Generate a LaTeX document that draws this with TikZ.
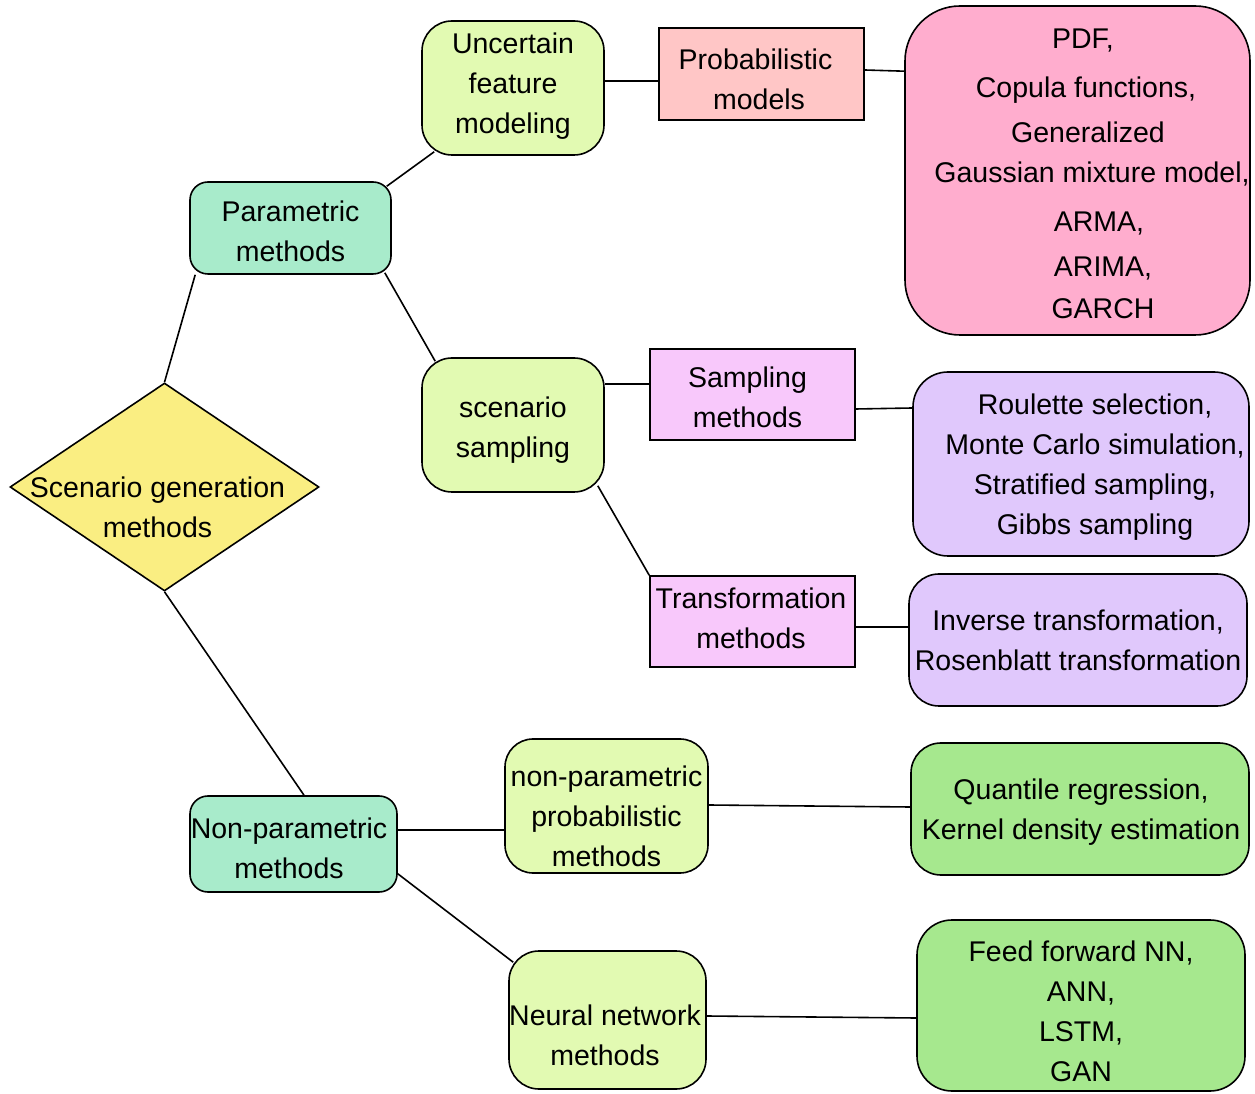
\documentclass[tikz,border=0pt]{standalone}
\usepackage{fontspec}
\setmainfont{Liberation Sans}
\usetikzlibrary{shapes.geometric,calc}
\definecolor{cdia}{HTML}{FAEE82}
\definecolor{cmint}{HTML}{A8EBCB}
\definecolor{clime}{HTML}{E2FAB2}
\definecolor{cprob}{HTML}{FFC6C6}
\definecolor{cviol}{HTML}{F8C8FB}
\definecolor{cpink}{HTML}{FFADCE}
\definecolor{clav}{HTML}{E0C8FC}
\definecolor{cgreen}{HTML}{A6E88E}
\begin{document}
\begin{tikzpicture}[x=1pt,y=1pt,
  base/.style={draw=black, line width=1.6pt, inner sep=0pt},
  rbox/.style={base, rounded corners=#1},
  rbox/.default=30pt,
  sbox/.style={base},
  conn/.style={line width=1.6pt, draw=black},
  txt/.style={font=\fontsize{28.5}{40}\selectfont, align=center, inner sep=0pt}]
\useasboundingbox (0,0) rectangle (1255,1093);

% root diamond
\node[diamond, draw=black, line width=1.6pt, fill=cdia, minimum width=309pt, minimum height=208pt, inner sep=0pt] (dia) at (164.5,606) {};
\node[txt] (diat) at (157.5,586) {Scenario generation\\methods};

% level 1
\node[rbox=18pt, fill=cmint, minimum width=201pt, minimum height=92pt] (par) at (290.5,865) {};
\node[txt] (part) at ($(par.center)+(0,-3)$) {Parametric\\methods};
\node[rbox=18pt, fill=cmint, minimum width=207pt, minimum height=96pt] (npar) at (293.5,249) {};
\node[txt] (npart) at ($(npar.center)+(-4.5,-4)$) {Non-parametric\\methods};

% level 2
\node[rbox, fill=clime, minimum width=182pt, minimum height=134pt] (unc) at (513,1005) {};
\node[txt] (unct) at ($(unc.center)+(0,2)$) {Uncertain\\feature\\modeling};
\node[rbox, fill=clime, minimum width=182pt, minimum height=134pt] (ss) at (513,668) {};
\node[txt] (sst) at ($(ss.center)+(0,-5)$) {scenario\\sampling};
\node[rbox=28pt, fill=clime, minimum width=203pt, minimum height=134pt] (npp) at (606.5,287) {};
\node[txt] (nppt) at ($(npp.center)+(0,-10)$) {non-parametric\\probabilistic\\methods};
\node[rbox, fill=clime, minimum width=197pt, minimum height=138pt] (nn) at (607.5,73) {};
\node[txt] (nnt) at ($(nn.center)+(-2.5,-15)$) {Neural network\\methods};

% level 3 rectangles
\node[sbox, fill=cprob, minimum width=205pt, minimum height=92pt] (prob) at (761.5,1019) {};
\node[txt] (probt) at ($(prob.center)+(-6,-5)$) {Probabilistic\\\hspace*{7pt}models};
\node[sbox, fill=cviol, minimum width=205pt, minimum height=91pt] (samp) at (752.5,698.5) {};
\node[txt] (sampt) at ($(samp.center)+(-5,-3)$) {Sampling\\methods};
\node[sbox, fill=cviol, minimum width=205pt, minimum height=91pt] (trans) at (752.5,471.5) {};
\node[txt] (transt) at ($(trans.center)+(-1.5,3)$) {Transformation\\methods};

% leaves
\node[rbox=55pt, fill=cpink, minimum width=345pt, minimum height=329pt] (pdf) at (1077.5,922.5) {};
\node[txt] (pdft) at ($(pdf.center)+(0,-3)$)
 {\hspace*{11pt}PDF,\\[9pt]
  \hspace*{17pt}Copula functions,\\[5pt]
  \hspace*{21pt}Generalized\\
  \hspace*{29pt}Gaussian mixture model,\\[9pt]
  \hspace*{43pt}ARMA,\\[5pt]
  \hspace*{51pt}ARIMA,\\[2pt]
  \hspace*{51pt}GARCH};
\node[rbox=35pt, fill=clav, minimum width=336pt, minimum height=184pt] (roul) at (1081,629) {};
\node[txt] (roult) at ($(roul.center)+(14,-3)$)
 {Roulette selection,\\Monte Carlo simulation,\\Stratified sampling,\\Gibbs sampling};
\node[rbox, fill=clav, minimum width=338pt, minimum height=132pt] (inv) at (1078,453) {};
\node[txt] (invt) at (inv.center) {Inverse transformation,\\Rosenblatt transformation};
\node[rbox, fill=cgreen, minimum width=338pt, minimum height=132pt] (qr) at (1080,284) {};
\node[txt] (qrt) at ($(qr.center)+(1,-3)$) {Quantile regression,\\Kernel density estimation};
\node[rbox=35pt, fill=cgreen, minimum width=328pt, minimum height=171pt] (ff) at (1081,87.5) {};
\node[txt] (fft) at ($(ff.center)+(0,-6)$) {Feed forward NN,\\ANN,\\LSTM,\\GAN};

% connectors
\draw[conn] (dia.north) -- ($(par.south west)+(6,0)$);
\draw[conn] (dia.south) -- ($(npar.north)+(10.5,0)$);
\draw[conn] ($(par.north east)+(-5,-5)$) -- ($(unc.south west)+(13,4)$);
\draw[conn] ($(par.south east)+(-7,2)$) -- ($(ss.north west)+(14,-4)$);
\draw[conn] ($(unc.east)+(0,7)$) -- ($(prob.west)+(0,-7)$);
\draw[conn] ($(prob.east)+(0,4)$) -- ($(pdf.north west)+(0,-66)$);
\draw[conn] ($(ss.east)+(0,41)$) -- ($(samp.west)+(0,10.5)$);
\draw[conn] ($(ss.south east)+(-7,7)$) -- (trans.north west);
\draw[conn] ($(samp.east)+(0,-14.5)$) -- ($(roul.west)+(0,56)$);
\draw[conn] ($(trans.east)+(0,-5.5)$) -- ($(inv.west)+(0,13)$);
\draw[conn] ($(npar.east)+(0,14)$) -- ($(npp.west)+(0,-24)$);
\draw[conn] ($(npar.south east)+(0,19)$) -- ($(nn.north west)+(5,-12)$);
\draw[conn] ($(npp.east)+(0,1)$) -- ($(qr.west)+(0,2)$);
\draw[conn] ($(nn.east)+(0,4)$) -- ($(ff.west)+(0,-12.5)$);
\end{tikzpicture}
\end{document}
